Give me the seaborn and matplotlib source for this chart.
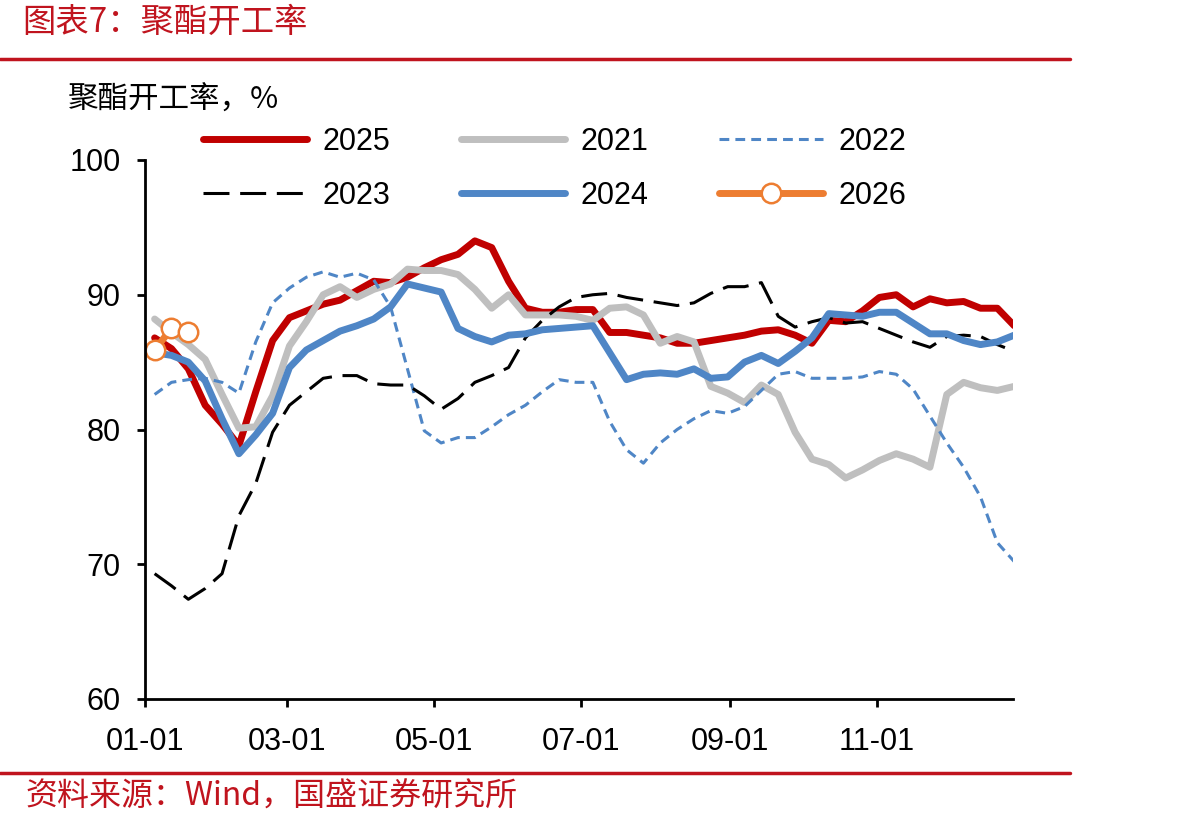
import numpy as np
import pandas as pd
import matplotlib
matplotlib.use("Agg")
import matplotlib.pyplot as plt
import matplotlib.dates as mdates
from matplotlib.lines import Line2D
import seaborn as sns

# ---------------- data ----------------
weeks = pd.date_range("2025-01-05", periods=52, freq="7D")

v2025 = [86.8, 86.0, 84.5, 81.8, 80.4, 78.8, 82.8, 86.6, 88.3, 88.8,
         89.3, 89.6, 90.3, 91.0, 90.9, 91.3, 92.0, 92.6, 93.0, 94.0,
         93.5, 91.0, 89.0, 88.7, 88.7, 88.9, 88.9, 87.2, 87.2, 87.0,
         86.8, 86.4, 86.4, 86.6, 86.8, 87.0, 87.3, 87.4, 87.0, 86.4,
         88.1, 88.0, 88.8, 89.8, 90.0, 89.1, 89.7, 89.4, 89.5, 89.0,
         89.0, 87.7]

v2021 = [88.2, 87.2, 86.3, 85.2, 82.6, 80.1, 80.2, 82.5, 86.2, 88.0,
         90.0, 90.6, 89.8, 90.4, 90.8, 91.9, 91.8, 91.8, 91.5, 90.4,
         89.0, 90.0, 88.5, 88.5, 88.5, 88.4, 88.1, 89.0, 89.1, 88.5,
         86.4, 86.9, 86.5, 83.2, 82.7, 82.0, 83.3, 82.6, 79.8, 77.8,
         77.4, 76.4, 77.0, 77.7, 78.2, 77.8, 77.2, 82.6, 83.5, 83.1,
         82.9, 83.2]

v2022 = [82.6, 83.5, 83.7, 83.8, 83.5, 82.7, 86.5, 89.4, 90.5, 91.3,
         91.7, 91.3, 91.6, 91.1, 89.1, 84.5, 79.9, 79.0, 79.4, 79.4,
         80.2, 81.1, 81.8, 82.8, 83.7, 83.5, 83.5, 80.6, 78.5, 77.5,
         79.0, 80.0, 80.8, 81.4, 81.2, 81.7, 82.9, 84.1, 84.3, 83.8,
         83.8, 83.8, 83.9, 84.3, 84.1, 83.0, 81.0, 79.0, 77.2, 75.0,
         71.6, 70.2]

v2023 = [69.3, 68.4, 67.4, 68.2, 69.3, 73.6, 76.0, 79.8, 81.8, 82.8,
         83.8, 84.0, 84.0, 83.4, 83.3, 83.3, 82.5, 81.5, 82.3, 83.5,
         84.0, 84.6, 86.8, 88.1, 89.1, 89.8, 90.0, 90.1, 89.8, 89.6,
         89.4, 89.2, 89.4, 90.1, 90.6, 90.6, 90.9, 88.4, 87.6, 88.0,
         88.3, 87.9, 88.0, 87.5, 87.0, 86.5, 86.1, 86.9, 87.0, 86.9,
         86.3, 85.8]

v2024 = [85.7, 85.5, 85.0, 83.6, 80.8, 78.2, 79.6, 81.2, 84.6, 85.9,
         86.6, 87.3, 87.7, 88.2, 89.1, 90.8, 90.5, 90.2, 87.5, 86.9,
         86.5, 87.0, 87.1, 87.4, 87.5, 87.6, 87.7, 85.7, 83.7, 84.1,
         84.2, 84.1, 84.5, 83.8, 83.9, 85.0, 85.5, 84.9, 85.8, 86.8,
         88.6, 88.5, 88.4, 88.7, 88.7, 87.9, 87.1, 87.1, 86.6, 86.3,
         86.5, 87.0]

v2026 = [85.9, 87.5, 87.2]

y_ticks = [60, 70, 80, 90, 100]
x_tick_dates = pd.to_datetime(["2025-01-01", "2025-03-01", "2025-05-01",
                               "2025-07-01", "2025-09-01", "2025-11-01"])

# ---------------- style ----------------
sns.set_theme(style="ticks")
plt.rcParams["font.family"] = ["Liberation Sans", "Noto Sans CJK SC", "DejaVu Sans"]

RED = "#C00000"
GRAY = "#BFBFBF"
BLUE = "#4F86C6"
ORANGE = "#ED7D31"
TITLE_RED = "#C0141E"

fig = plt.figure(figsize=(11.92, 8.27), dpi=100)
ax = fig.add_axes([145 / 1192, 1 - 699 / 827, (1013 - 145) / 1192, (699 - 160) / 827])

sns.lineplot(x=weeks, y=v2025, ax=ax, color=RED, lw=5, label="2025",
             solid_capstyle="round", solid_joinstyle="round")
sns.lineplot(x=weeks, y=v2021, ax=ax, color=GRAY, lw=5, label="2021",
             solid_capstyle="round", solid_joinstyle="round")
sns.lineplot(x=weeks, y=v2022, ax=ax, color=BLUE, lw=2.2, label="2022",
             linestyle=(0, (3.2, 2.0)))
sns.lineplot(x=weeks, y=v2023, ax=ax, color="black", lw=2.2, label="2023",
             linestyle=(0, (8.5, 3.5)))
sns.lineplot(x=weeks, y=v2024, ax=ax, color=BLUE, lw=5, label="2024",
             solid_capstyle="round", solid_joinstyle="round")
sns.lineplot(x=weeks[:len(v2026)], y=v2026, ax=ax, color=ORANGE, lw=5, label="2026",
             marker="o", markersize=14, markerfacecolor="white",
             markeredgecolor=ORANGE, markeredgewidth=1.8,
             solid_capstyle="round")

# axes
ax.set_ylim(60, 100)
ax.set_xlim(pd.Timestamp("2025-01-01"), pd.Timestamp("2025-01-01") + pd.Timedelta(days=360.5))
ax.set_yticks(y_ticks)
ax.set_xticks(x_tick_dates)
ax.xaxis.set_major_formatter(mdates.DateFormatter("%m-%d"))
ax.set_xlabel("")
ax.set_ylabel("")
for s in ["top", "right"]:
    ax.spines[s].set_visible(False)
for s in ["left", "bottom"]:
    ax.spines[s].set_color("black")
    ax.spines[s].set_linewidth(2)
ax.tick_params(axis="both", direction="out", length=5.5, width=2, colors="black",
               labelsize=22)
ax.tick_params(axis="y", pad=12)
ax.tick_params(axis="x", pad=15)
for lbl in ax.get_xticklabels() + ax.get_yticklabels():
    lbl.set_color("black")

# legend (row-wise order via column-major filling)
handles, labels = ax.get_legend_handles_labels()
hmap = dict(zip(labels, handles))
order = ["2025", "2023", "2021", "2024", "2022", "2026"]
leg = ax.legend([hmap[k] for k in order], order, ncol=3, frameon=False,
                loc="upper left", bbox_to_anchor=(203 / 1192, 1 - 127 / 827),
                bbox_transform=fig.transFigure, fontsize=22,
                handlelength=3.4, handletextpad=0.5, columnspacing=2.33,
                labelspacing=0.78, borderpad=0, borderaxespad=0)
for t in leg.get_texts():
    t.set_color("black")

# texts
fig.text(22 / 1192, 1 - 22 / 827, "图表7：聚酯开工率", color=TITLE_RED, fontsize=24,
         va="center", ha="left", family=["Noto Sans CJK SC", "DejaVu Sans"])
fig.text(68 / 1192, 1 - 100 / 827, "聚酯开工率，%", color="black", fontsize=22,
         va="center", ha="left", family=["Noto Sans CJK SC", "DejaVu Sans"])
fig.text(25 / 1192, 1 - 797 / 827, "资料来源：Wind，国盛证券研究所", color=TITLE_RED,
         fontsize=23, va="center", ha="left", family=["Noto Sans CJK SC", "DejaVu Sans"])

# red separator lines
fig.add_artist(Line2D([0, 1070 / 1192], [1 - 59 / 827] * 2, color=TITLE_RED, lw=2.5,
                      transform=fig.transFigure))
fig.add_artist(Line2D([0, 1070 / 1192], [1 - 773 / 827] * 2, color=TITLE_RED, lw=2.5,
                      transform=fig.transFigure))

fig.savefig("out.png", dpi=100, facecolor="white")
